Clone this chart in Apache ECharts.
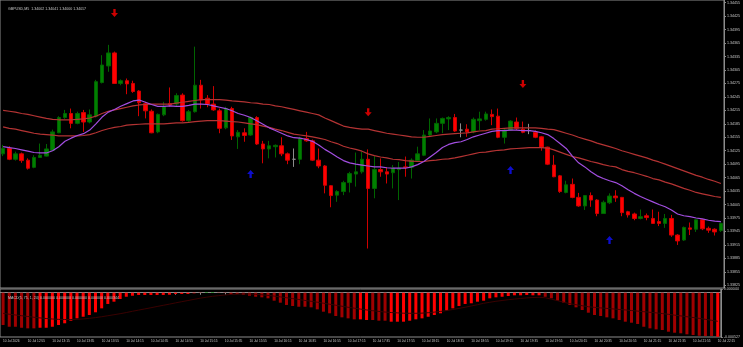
<!DOCTYPE html>
<html>
<head>
<meta charset="utf-8">
<title>GBPUSD,M5</title>
<script src="https://cdn.jsdelivr.net/npm/echarts@6.0.0/dist/echarts.min.js"></script>
<style>
    html, body { margin: 0; padding: 0; background: #000; }
    #chart { width: 743px; height: 347px; }
</style>
</head>
<body>
<div id="chart"></div>
<script>
    // 5-minute bars, 10 Jul
    const times = [
        '12:35','12:40','12:45','12:50','12:55',
        '13:00','13:05','13:10','13:15','13:20','13:25','13:30','13:35','13:40','13:45','13:50','13:55',
        '14:00','14:05','14:10','14:15','14:20','14:25','14:30','14:35','14:40','14:45','14:50','14:55',
        '15:00','15:05','15:10','15:15','15:20','15:25','15:30','15:35','15:40','15:45','15:50','15:55',
        '16:00','16:05','16:10','16:15','16:20','16:25','16:30','16:35','16:40','16:45','16:50','16:55',
        '17:00','17:05','17:10','17:15','17:20','17:25','17:30','17:35','17:40','17:45','17:50','17:55',
        '18:00','18:05','18:10','18:15','18:20','18:25','18:30','18:35','18:40','18:45','18:50','18:55',
        '19:00','19:05','19:10','19:15','19:20','19:25','19:30','19:35','19:40','19:45','19:50','19:55',
        '20:00','20:05','20:10','20:15','20:20','20:25','20:30','20:35','20:40','20:45','20:50','20:55',
        '21:00','21:05','21:10','21:15','21:20','21:25','21:30','21:35','21:40','21:45','21:50','21:55',
        '22:00','22:05','22:10','22:15'
    ];

    const opens = [
        1.34118, 1.34130, 1.34106, 1.34118, 1.34104, 1.34088, 1.34110, 1.34113, 1.34126, 1.34165,
        1.34199, 1.34208, 1.34186, 1.34210, 1.34189, 1.34202, 1.34277, 1.34314, 1.34343, 1.34275,
        1.34281, 1.34275, 1.34258, 1.34230, 1.34213, 1.34167, 1.34205, 1.34230, 1.34229, 1.34249,
        1.34192, 1.34212, 1.34271, 1.34242, 1.34229, 1.34214, 1.34176, 1.34219, 1.34156, 1.34165,
        1.34160, 1.34199, 1.34140, 1.34129, 1.34134, 1.34136, 1.34118, 1.34106, 1.34106, 1.34152,
        1.34147, 1.34104, 1.34091, 1.34047, 1.34026, 1.34034, 1.34054, 1.34073, 1.34078, 1.34106,
        1.34041, 1.34083, 1.34078, 1.34076, 1.34083, 1.34089, 1.34088, 1.34103, 1.34115, 1.34160,
        1.34167, 1.34186, 1.34196, 1.34199, 1.34171, 1.34173, 1.34167, 1.34192, 1.34195, 1.34206,
        1.34202, 1.34155, 1.34171, 1.34189, 1.34173, 1.34170, 1.34166, 1.34156, 1.34133, 1.34093,
        1.34069, 1.34032, 1.34050, 1.34021, 1.34002, 1.34025, 1.34015, 1.33985, 1.34009, 1.34024,
        1.34021, 1.33989, 1.33984, 1.33974, 1.33980, 1.33974, 1.33967, 1.33963, 1.33974, 1.33937,
        1.33926, 1.33953, 1.33950, 1.33971, 1.33952, 1.33950, 1.33947
    ];
    const highs = [
        1.34138, 1.34135, 1.34123, 1.34121, 1.34108, 1.34115, 1.34141, 1.34140, 1.34172, 1.34202,
        1.34216, 1.34219, 1.34212, 1.34216, 1.34217, 1.34283, 1.34338, 1.34361, 1.34346, 1.34284,
        1.34286, 1.34281, 1.34260, 1.34234, 1.34217, 1.34208, 1.34234, 1.34266, 1.34253, 1.34253,
        1.34216, 1.34357, 1.34283, 1.34249, 1.34269, 1.34219, 1.34223, 1.34223, 1.34171, 1.34175,
        1.34201, 1.34202, 1.34147, 1.34147, 1.34139, 1.34155, 1.34121, 1.34130, 1.34156, 1.34167,
        1.34150, 1.34130, 1.34093, 1.34048, 1.34037, 1.34058, 1.34078, 1.34121, 1.34123, 1.34128,
        1.34113, 1.34108, 1.34088, 1.34093, 1.34100, 1.34112, 1.34108, 1.34134, 1.34171, 1.34197,
        1.34197, 1.34199, 1.34202, 1.34207, 1.34186, 1.34184, 1.34199, 1.34212, 1.34212, 1.34217,
        1.34219, 1.34175, 1.34193, 1.34199, 1.34190, 1.34185, 1.34170, 1.34158, 1.34134, 1.34115,
        1.34071, 1.34058, 1.34063, 1.34031, 1.34026, 1.34032, 1.34017, 1.34014, 1.34030, 1.34037,
        1.34022, 1.33991, 1.33987, 1.33994, 1.33985, 1.33994, 1.33989, 1.33984, 1.33982, 1.33939,
        1.33956, 1.33965, 1.33972, 1.33972, 1.33956, 1.33952, 1.33965
    ];
    const lows = [
        1.34113, 1.34104, 1.34103, 1.34098, 1.34083, 1.34086, 1.34109, 1.34112, 1.34125, 1.34164,
        1.34196, 1.34175, 1.34184, 1.34167, 1.34186, 1.34199, 1.34275, 1.34301, 1.34274, 1.34271,
        1.34251, 1.34254, 1.34202, 1.34197, 1.34164, 1.34164, 1.34202, 1.34223, 1.34225, 1.34190,
        1.34187, 1.34210, 1.34219, 1.34222, 1.34214, 1.34164, 1.34173, 1.34149, 1.34129, 1.34145,
        1.34158, 1.34138, 1.34097, 1.34108, 1.34110, 1.34113, 1.34095, 1.34089, 1.34095, 1.34145,
        1.34102, 1.34086, 1.34030, 1.33999, 1.34011, 1.34026, 1.34032, 1.34045, 1.34074, 1.33907,
        1.34019, 1.34067, 1.34052, 1.34041, 1.34015, 1.34067, 1.34063, 1.34100, 1.34113, 1.34158,
        1.34164, 1.34164, 1.34171, 1.34167, 1.34155, 1.34156, 1.34164, 1.34171, 1.34192, 1.34182,
        1.34153, 1.34141, 1.34170, 1.34171, 1.34164, 1.34162, 1.34153, 1.34125, 1.34093, 1.34066,
        1.34031, 1.34030, 1.34019, 1.34000, 1.33993, 1.34000, 1.33979, 1.33984, 1.34006, 1.34011,
        1.33979, 1.33976, 1.33970, 1.33972, 1.33970, 1.33962, 1.33957, 1.33953, 1.33933, 1.33915,
        1.33924, 1.33937, 1.33944, 1.33948, 1.33942, 1.33936, 1.33944
    ];
    const closes = [
        1.34130, 1.34106, 1.34118, 1.34103, 1.34086, 1.34110, 1.34115, 1.34129, 1.34167, 1.34199,
        1.34208, 1.34186, 1.34208, 1.34189, 1.34205, 1.34279, 1.34316, 1.34343, 1.34275, 1.34281,
        1.34274, 1.34257, 1.34232, 1.34214, 1.34165, 1.34206, 1.34223, 1.34227, 1.34248, 1.34192,
        1.34212, 1.34271, 1.34238, 1.34229, 1.34216, 1.34175, 1.34219, 1.34158, 1.34166, 1.34159,
        1.34199, 1.34140, 1.34129, 1.34136, 1.34137, 1.34118, 1.34104, 1.34106, 1.34152, 1.34147,
        1.34104, 1.34091, 1.34048, 1.34025, 1.34034, 1.34054, 1.34074, 1.34078, 1.34106, 1.34041,
        1.34083, 1.34078, 1.34073, 1.34086, 1.34086, 1.34088, 1.34104, 1.34118, 1.34160, 1.34169,
        1.34186, 1.34197, 1.34199, 1.34169, 1.34171, 1.34167, 1.34195, 1.34196, 1.34207, 1.34201,
        1.34155, 1.34171, 1.34191, 1.34175, 1.34166, 1.34170, 1.34155, 1.34133, 1.34095, 1.34067,
        1.34034, 1.34049, 1.34021, 1.34002, 1.34025, 1.34015, 1.33985, 1.34010, 1.34024, 1.34020,
        1.33987, 1.33982, 1.33974, 1.33978, 1.33976, 1.33963, 1.33963, 1.33974, 1.33937, 1.33924,
        1.33954, 1.33950, 1.33971, 1.33951, 1.33948, 1.33944, 1.33963
    ];

    // purple fast average
    const maFast = [
        1.34134, 1.34132, 1.34130, 1.34127, 1.34124, 1.34121, 1.34120, 1.34120, 1.34125, 1.34134,
        1.34146, 1.34153, 1.34159, 1.34163, 1.34171, 1.34185, 1.34200, 1.34211, 1.34217, 1.34224,
        1.34230, 1.34236, 1.34238, 1.34233, 1.34228, 1.34224, 1.34224, 1.34225, 1.34224, 1.34224,
        1.34226, 1.34229, 1.34229, 1.34228, 1.34225, 1.34222, 1.34219, 1.34214, 1.34208, 1.34204,
        1.34199, 1.34192, 1.34184, 1.34176, 1.34170, 1.34164, 1.34158, 1.34154, 1.34153, 1.34150,
        1.34146, 1.34138, 1.34128, 1.34120, 1.34111, 1.34103, 1.34098, 1.34095, 1.34093, 1.34091,
        1.34089, 1.34089, 1.34087, 1.34086, 1.34086, 1.34086, 1.34089, 1.34094, 1.34101, 1.34111,
        1.34121, 1.34132, 1.34139, 1.34143, 1.34145, 1.34150, 1.34156, 1.34160, 1.34164, 1.34168,
        1.34170, 1.34170, 1.34171, 1.34171, 1.34170, 1.34170, 1.34168, 1.34165, 1.34161, 1.34152,
        1.34141, 1.34130, 1.34113, 1.34098, 1.34089, 1.34078, 1.34069, 1.34063, 1.34058, 1.34054,
        1.34047, 1.34038, 1.34030, 1.34023, 1.34017, 1.34011, 1.34005, 1.34000, 1.33993, 1.33984,
        1.33980, 1.33978, 1.33975, 1.33973, 1.33970, 1.33968, 1.33967
    ];
    // the two slow red averages
    const maUpper = [
        1.34215, 1.34213, 1.34211, 1.34208, 1.34206, 1.34203, 1.34200, 1.34197, 1.34195, 1.34194,
        1.34194, 1.34194, 1.34195, 1.34196, 1.34198, 1.34202, 1.34208, 1.34213, 1.34216, 1.34219,
        1.34222, 1.34225, 1.34227, 1.34228, 1.34229, 1.34229, 1.34229, 1.34229, 1.34231, 1.34233,
        1.34235, 1.34237, 1.34239, 1.34239, 1.34239, 1.34239, 1.34238, 1.34236, 1.34235, 1.34234,
        1.34232, 1.34231, 1.34229, 1.34228, 1.34225, 1.34223, 1.34220, 1.34217, 1.34214, 1.34211,
        1.34208, 1.34205, 1.34198, 1.34192, 1.34186, 1.34180, 1.34177, 1.34175, 1.34173, 1.34173,
        1.34170, 1.34167, 1.34164, 1.34162, 1.34160, 1.34158, 1.34156, 1.34155, 1.34155, 1.34157,
        1.34159, 1.34161, 1.34162, 1.34163, 1.34164, 1.34165, 1.34167, 1.34169, 1.34170, 1.34173,
        1.34174, 1.34175, 1.34176, 1.34176, 1.34176, 1.34176, 1.34176, 1.34175, 1.34173, 1.34172,
        1.34168, 1.34164, 1.34160, 1.34155, 1.34151, 1.34147, 1.34142, 1.34138, 1.34134, 1.34130,
        1.34125, 1.34121, 1.34117, 1.34113, 1.34109, 1.34104, 1.34100, 1.34095, 1.34090, 1.34085,
        1.34080, 1.34075, 1.34070, 1.34066, 1.34061, 1.34057, 1.34052
    ];
    const maLower = [
        1.34178, 1.34175, 1.34173, 1.34170, 1.34167, 1.34164, 1.34162, 1.34161, 1.34160, 1.34158,
        1.34158, 1.34158, 1.34158, 1.34159, 1.34161, 1.34165, 1.34170, 1.34174, 1.34177, 1.34179,
        1.34182, 1.34183, 1.34184, 1.34185, 1.34185, 1.34185, 1.34185, 1.34186, 1.34187, 1.34187,
        1.34188, 1.34190, 1.34191, 1.34192, 1.34192, 1.34192, 1.34191, 1.34190, 1.34189, 1.34187,
        1.34185, 1.34183, 1.34180, 1.34177, 1.34173, 1.34170, 1.34166, 1.34162, 1.34160, 1.34158,
        1.34156, 1.34153, 1.34150, 1.34145, 1.34141, 1.34135, 1.34131, 1.34128, 1.34124, 1.34118,
        1.34114, 1.34111, 1.34109, 1.34106, 1.34105, 1.34103, 1.34102, 1.34101, 1.34101, 1.34103,
        1.34104, 1.34106, 1.34107, 1.34109, 1.34112, 1.34115, 1.34118, 1.34121, 1.34122, 1.34124,
        1.34126, 1.34127, 1.34129, 1.34130, 1.34131, 1.34132, 1.34132, 1.34132, 1.34131, 1.34127,
        1.34122, 1.34117, 1.34112, 1.34109, 1.34105, 1.34101, 1.34098, 1.34094, 1.34091, 1.34089,
        1.34083, 1.34079, 1.34076, 1.34072, 1.34068, 1.34063, 1.34060, 1.34055, 1.34051, 1.34046,
        1.34041, 1.34037, 1.34032, 1.34029, 1.34026, 1.34023, 1.34021
    ];

    const macdHist = [
        -0.000384, -0.000405, -0.000405, -0.000417, -0.000424, -0.000424, -0.000417, -0.000417, -0.000405, -0.000384,
        -0.000364, -0.000333, -0.000305, -0.000286, -0.000265, -0.000233, -0.000186, -0.000134, -0.000107, -0.000075,
        -0.000048, -0.000036, -0.000027, -0.000027, -0.000027, -0.000027, -0.000027, -0.000024, -0.000015, -0.000015,
        -0.000015, -0.000007, -0.000004, 0.000006, 0.000006, -0.000003, -0.000004, -0.000015, -0.000017, -0.000024,
        -0.000036, -0.000048, -0.000055, -0.000067, -0.000095, -0.000119, -0.000146, -0.000158, -0.000167, -0.000167,
        -0.000174, -0.000198, -0.000226, -0.000245, -0.000277, -0.000293, -0.000305, -0.000317, -0.000317, -0.000325,
        -0.000325, -0.000333, -0.000333, -0.000345, -0.000345, -0.000345, -0.000333, -0.000317, -0.000305, -0.000286,
        -0.000265, -0.000245, -0.000214, -0.000186, -0.000158, -0.000134, -0.000126, -0.000107, -0.000095, -0.000067,
        -0.000055, -0.000048, -0.000039, -0.000031, -0.000031, -0.000027, -0.000031, -0.000031, -0.000048, -0.000067,
        -0.000095, -0.000119, -0.000146, -0.000174, -0.000206, -0.000238, -0.000265, -0.000277, -0.000293, -0.000305,
        -0.000325, -0.000345, -0.000357, -0.000372, -0.000405, -0.000424, -0.000436, -0.000444, -0.000464, -0.000476,
        -0.000483, -0.000495, -0.000503, -0.000512, -0.000515, -0.000515, -0.000524
    ];
    const macdSignal = [
        -0.000245, -0.000256, -0.000265, -0.000274, -0.000283, -0.000292, -0.000300, -0.000307, -0.000313, -0.000317,
        -0.000319, -0.000319, -0.000317, -0.000312, -0.000305, -0.000296, -0.000286, -0.000274, -0.000262, -0.000250,
        -0.000236, -0.000221, -0.000207, -0.000193, -0.000179, -0.000164, -0.000150, -0.000136, -0.000121, -0.000107,
        -0.000093, -0.000079, -0.000065, -0.000054, -0.000043, -0.000035, -0.000027, -0.000021, -0.000017, -0.000014,
        -0.000015, -0.000019, -0.000025, -0.000032, -0.000040, -0.000050, -0.000060, -0.000070, -0.000081, -0.000092,
        -0.000102, -0.000113, -0.000125, -0.000137, -0.000149, -0.000161, -0.000173, -0.000184, -0.000195, -0.000205,
        -0.000214, -0.000223, -0.000230, -0.000236, -0.000240, -0.000244, -0.000245, -0.000245, -0.000243, -0.000238,
        -0.000231, -0.000223, -0.000212, -0.000200, -0.000187, -0.000173, -0.000158, -0.000143, -0.000126, -0.000114,
        -0.000102, -0.000093, -0.000083, -0.000076, -0.000069, -0.000062, -0.000057, -0.000055, -0.000060, -0.000077,
        -0.000095, -0.000113, -0.000131, -0.000143, -0.000155, -0.000167, -0.000174, -0.000181, -0.000187, -0.000193,
        -0.000199, -0.000205, -0.000212, -0.000219, -0.000226, -0.000233, -0.000240, -0.000248, -0.000257, -0.000267,
        -0.000276, -0.000286, -0.000295, -0.000305, -0.000317, -0.000328, -0.000340
    ];
    // 0 = dark red, 1 = bright red, 2 = green
    const macdTone = [
        0, 0, 0, 0, 0, 0, 1, 1, 1, 1,
        1, 1, 1, 1, 1, 1, 1, 1, 1, 1,
        1, 1, 1, 1, 1, 1, 1, 1, 1, 1,
        1, 1, 0, 2, 2, 0, 0, 0, 0, 0,
        0, 0, 0, 0, 0, 0, 0, 0, 0, 0,
        0, 0, 0, 0, 0, 0, 0, 0, 1, 1,
        0, 0, 0, 1, 1, 1, 1, 1, 1, 1,
        1, 1, 1, 1, 1, 1, 1, 1, 1, 1,
        1, 1, 1, 1, 1, 1, 1, 1, 0, 0,
        0, 0, 0, 0, 0, 0, 0, 0, 0, 0,
        0, 0, 0, 0, 0, 0, 0, 0, 0, 0,
        0, 0, 0, 0, 0, 0, 1
    ];

    // signal arrows
    const sellBars = [18, 59, 84];
    const sellPrices = [1.34432, 1.34211, 1.34274];
    const buyBars = [40, 82, 98];
    const buyPrices = [1.34073, 1.34082, 1.33926];

    const priceTicks = [
        1.34455, 1.34425, 1.34395, 1.34365, 1.34335, 1.34305, 1.34275, 1.34245, 1.34215, 1.34185, 1.34155,
        1.34125, 1.34095, 1.34065, 1.34035, 1.34005, 1.33975, 1.33945, 1.33915, 1.33885, 1.33855, 1.33825
    ];
    const macdTicks = [0.000044, -0.000527];
    const lastPrice = 1.34017;

    const headerText = 'GBPUSD,M5  1.34002 1.34041 1.34000 1.34017';
    const macdText = 'MACD(5, 75, 1, 24) 0.000000 0.000000 0.000000 0.000000 0.000344';

    let chart = echarts.init(document.getElementById('chart'));

    const frame = '#8c8c8c';
    const txt = '#c8c8c8';
    const toneColors = ['#a00000', '#ff0000', '#00a000'];

    let candleData = times.map((t, i) => {
        let item = { value: [opens[i], closes[i], lows[i], highs[i]] };
        if (opens[i] === closes[i]) {
            item.itemStyle = { color: '#8c8c8c', color0: '#8c8c8c', borderColor: '#8c8c8c', borderColor0: '#8c8c8c' };
        }
        return item;
    });
    let macdData = macdHist.map((v, i) => ({ value: v, itemStyle: { color: toneColors[macdTone[i]] } }));

    const downArrow = 'path://M3,0H6V5H9L4.5,10L0,5H3Z';
    const upArrow = 'path://M3,10H6V5H9L4.5,0L0,5H3Z';

    let option = {
        backgroundColor: '#000',
        animation: false,
        textStyle: { fontFamily: 'Liberation Sans' },
        title: [
            { text: headerText, left: 3, top: 2, textStyle: { fontSize: 3.6, color: txt, fontWeight: 'normal' } },
            { text: macdText, left: 3, top: 291, textStyle: { fontSize: 3.6, color: txt, fontWeight: 'normal' } }
        ],
        grid: [
            { left: 0, right: 19, top: 0, height: 288, show: true, borderColor: frame, borderWidth: 1 },
            { left: 0, right: 19, top: 289, height: 48, show: true, borderColor: frame, borderWidth: 1 }
        ],
        xAxis: [
            {
                gridIndex: 0, type: 'category', data: times, boundaryGap: true,
                axisLine: { show: false }, axisTick: { show: false }, axisLabel: { show: false },
                splitLine: { show: false }
            },
            {
                gridIndex: 1, type: 'category', data: times, boundaryGap: true,
                axisLine: { show: true, lineStyle: { color: frame } },
                axisTick: { show: true, interval: 3, alignWithLabel: true, length: 2, lineStyle: { color: frame } },
                axisLabel: {
                    interval: 3, fontSize: 3.2, color: txt, align: 'left', margin: 3,
                    formatter: (v, i) => i === 0 ? '10 Jul 2026' : '10 Jul ' + v
                },
                splitLine: { show: false }
            }
        ],
        yAxis: [
            {
                gridIndex: 0, type: 'value', position: 'right', min: 1.33819, max: 1.34461,
                axisLine: { show: true, lineStyle: { color: frame } },
                axisTick: { show: true, length: 2, customValues: priceTicks, lineStyle: { color: frame } },
                axisLabel: {
                    customValues: priceTicks, fontSize: 3.6, color: txt, margin: 3,
                    formatter: v => v.toFixed(5)
                },
                splitLine: { show: false }
            },
            {
                gridIndex: 1, type: 'value', position: 'right', min: -0.000527, max: 0.000044,
                axisLine: { show: true, lineStyle: { color: frame } },
                axisTick: { show: true, length: 2, customValues: macdTicks, lineStyle: { color: frame } },
                axisLabel: {
                    customValues: macdTicks, fontSize: 3.6, color: txt, margin: 3,
                    formatter: v => v.toFixed(6)
                },
                splitLine: { show: false }
            }
        ],
        series: [
            {
                name: 'GBPUSD', type: 'candlestick', xAxisIndex: 0, yAxisIndex: 0,
                data: candleData, barWidth: 4,
                itemStyle: { color: '#008000', color0: '#ff0000', borderColor: '#006400', borderColor0: '#d00000', borderWidth: 1 },
                markLine: {
                    silent: true, symbol: ['none', 'none'],
                    lineStyle: { opacity: 0 },
                    label: {
                        position: 'end', distance: 1, formatter: lastPrice.toFixed(5),
                        color: '#000', backgroundColor: '#fff', fontSize: 3.6, padding: [1, 2, 0, 2]
                    },
                    data: [{ yAxis: lastPrice }]
                }
            },
            {
                name: 'upper', type: 'line', xAxisIndex: 0, yAxisIndex: 0, data: maUpper,
                symbol: 'none', lineStyle: { color: '#b33333', width: 1.2 }
            },
            {
                name: 'lower', type: 'line', xAxisIndex: 0, yAxisIndex: 0, data: maLower,
                symbol: 'none', lineStyle: { color: '#b33333', width: 1.2 }
            },
            {
                name: 'fast', type: 'line', xAxisIndex: 0, yAxisIndex: 0, data: maFast,
                symbol: 'none', lineStyle: { color: '#a24ee0', width: 1.2 }
            },
            {
                name: 'sell', type: 'scatter', xAxisIndex: 0, yAxisIndex: 0,
                data: sellBars.map((b, i) => [b, sellPrices[i]]),
                symbol: downArrow, symbolSize: [7, 8], itemStyle: { color: '#ff0000' }
            },
            {
                name: 'buy', type: 'scatter', xAxisIndex: 0, yAxisIndex: 0,
                data: buyBars.map((b, i) => [b, buyPrices[i]]),
                symbol: upArrow, symbolSize: [7, 8], itemStyle: { color: '#1010ff' }
            },
            {
                name: 'MACD', type: 'bar', xAxisIndex: 1, yAxisIndex: 1,
                data: macdData, barWidth: 3
            },
            {
                name: 'Signal', type: 'line', xAxisIndex: 1, yAxisIndex: 1, data: macdSignal,
                symbol: 'none', z: 5, lineStyle: { color: '#3a0000', width: 1 }
            }
        ]
    };

    chart.setOption(option);
    window.addEventListener('resize', function () {
        chart.resize();
    });
</script>
</body>
</html>
